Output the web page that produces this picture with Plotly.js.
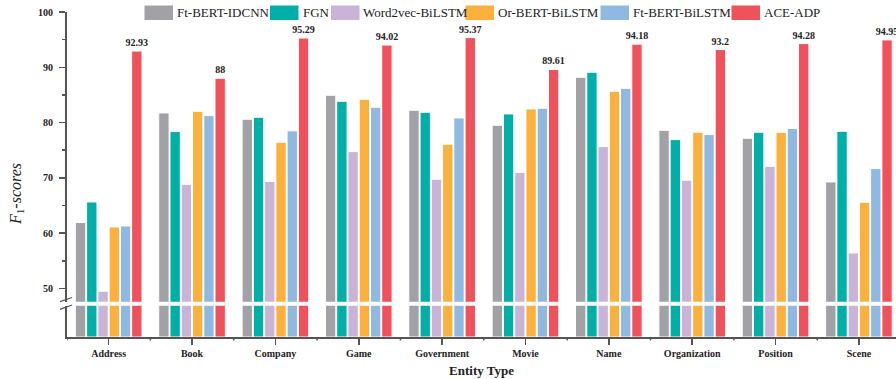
<!DOCTYPE html>
<html>
<head>
<meta charset="utf-8">
<script src="https://cdn.plot.ly/plotly-3.0.1.min.js"></script>
<style>html,body{margin:0;padding:0;background:#fff;overflow:hidden}#chart{width:896px;height:379px}</style>
</head>
<body>
<div id="chart"></div>
<script>
const categories = ['Address','Book','Company','Game','Government','Movie','Name','Organization','Position','Scene'];
const seriesNames = ['Ft-BERT-IDCNN','FGN','Word2vec-BiLSTM','Or-BERT-BiLSTM','Ft-BERT-BiLSTM','ACE-ADP'];
const ftBertIdcnn  = [61.92, 81.74, 80.60, 84.94, 82.22, 79.51, 88.20, 78.60, 77.16, 69.26];
const fgn          = [65.64, 78.37, 80.96, 83.85, 81.86, 81.56, 89.10, 76.92, 78.25, 78.43];
const word2vecBilstm = [49.50, 68.84, 69.33, 74.75, 69.75, 71.00, 75.66, 69.57, 72.10, 56.42];
const orBertBilstm = [61.12, 82.04, 76.44, 84.21, 76.08, 82.46, 85.66, 78.25, 78.25, 65.59];
const ftBertBilstm = [61.30, 81.26, 78.50, 82.77, 80.83, 82.59, 86.20, 77.83, 78.92, 71.68];
const aceAdp       = [92.93, 88, 95.29, 94.02, 95.37, 89.61, 94.18, 93.2, 94.28, 94.95];
const aceAdpLabels = ['92.93','88','95.29','94.02','95.37','89.61','94.18','93.2','94.28','94.95'];

const seriesValues = [ftBertIdcnn, fgn, word2vecBilstm, orBertBilstm, ftBertBilstm, aceAdp];
const colors = ['#A2A2A6', '#00AFA7', '#C9B4D7', '#FBB13C', '#90B9E1', '#F0515A'];

const SERIF = 'Liberation Serif, Times New Roman, serif';
const W = 896, H = 379;
const M = {l: 67, r: 0, t: 12, b: 42};
const PW = W - M.l - M.r, PH = H - M.t - M.b;
const px = x => (x - M.l) / PW;
const py = y => (H - M.b - y) / PH;

const traces = [];
seriesValues.forEach((vals, i) => {
  const isLast = i === seriesValues.length - 1;
  traces.push({
    type: 'bar', x: categories, y: vals, name: seriesNames[i],
    xaxis: 'x', yaxis: 'y', showlegend: false,
    marker: {color: colors[i], line: {color: '#ffffff', width: 1}},
    text: isLast ? aceAdpLabels : undefined,
    textposition: isLast ? 'outside' : 'none',
    constraintext: 'none',
    textfont: {family: SERIF, size: 10, color: '#222', weight: 'bold'},
    cliponaxis: false, hoverinfo: 'none'
  });
});
seriesValues.forEach((vals, i) => {
  traces.push({
    type: 'bar', x: categories, y: vals, name: seriesNames[i],
    xaxis: 'x', yaxis: 'y2', showlegend: false,
    marker: {color: colors[i], line: {color: '#ffffff', width: 1}},
    hoverinfo: 'none'
  });
});

// manual legend
const legSwatchX = [144, 269.5, 330.5, 465, 600, 731];
const legTextX = [175, 301, 361, 496, 631, 762];
const shapes = [];
const annotations = [];
seriesNames.forEach((n, i) => {
  shapes.push({type: 'rect', xref: 'paper', yref: 'paper',
    x0: px(legSwatchX[i]), x1: px(legSwatchX[i] + 29.5), y0: py(20.5), y1: py(5),
    fillcolor: colors[i], line: {color: '#ffffff', width: 1}});
  annotations.push({xref: 'paper', yref: 'paper', x: px(legTextX[i]), y: py(12.8),
    xanchor: 'left', yanchor: 'middle', showarrow: false, text: n,
    font: {family: SERIF, size: 13, color: '#222'}});
});

// category boundary ticks
for (let i = 0; i <= categories.length; i++) {
  shapes.push({type: 'line', xref: 'x', yref: 'paper', x0: i - 0.5, x1: i - 0.5,
    y0: py(337), y1: py(340.5), line: {color: '#555', width: 1.5}});
}
// axis break marks
shapes.push({type: 'line', xref: 'paper', yref: 'paper', x0: px(60), y0: py(301.7), x1: px(72), y1: py(297.5), line: {color: '#555', width: 1.3}});
shapes.push({type: 'line', xref: 'paper', yref: 'paper', x0: px(60), y0: py(309.3), x1: px(72), y1: py(305), line: {color: '#555', width: 1.3}});

// y axis title
annotations.push({xref: 'paper', yref: 'paper', x: px(16), y: py(194), xanchor: 'center', yanchor: 'middle',
  showarrow: false, textangle: -90, text: '<i>F</i><sub>1</sub><i>-scores</i>',
  font: {family: SERIF, size: 16, color: '#222'}});

const layout = {
  width: W, height: H, margin: M,
  paper_bgcolor: '#ffffff', plot_bgcolor: '#ffffff',
  barmode: 'group', bargap: 0.19, bargroupgap: 0.08,
  showlegend: false,
  xaxis: {
    type: 'category', range: [-0.5, -0.5 + PW / 83.36], anchor: 'y2',
    showline: true, linecolor: '#555', linewidth: 2,
    ticks: 'outside', ticklen: 6, tickwidth: 1.5, tickcolor: '#555',
    tickfont: {family: SERIF, size: 10, color: '#222', weight: 'bold'},
    title: {text: 'Entity Type', font: {family: SERIF, size: 13, color: '#222', weight: 'bold'}, standoff: 8},
    showgrid: false, zeroline: false, fixedrange: true
  },
  yaxis: {
    domain: [py(301.7), 1], range: [47.6, 100], tick0: 0, dtick: 10,
    showline: true, linecolor: '#555', linewidth: 2,
    ticks: 'outside', ticklen: 6, tickwidth: 1.5, tickcolor: '#555',
    minor: {ticks: 'outside', dtick: 5, tick0: 0, ticklen: 3, tickwidth: 1.5, tickcolor: '#555', showgrid: false},
    tickfont: {family: SERIF, size: 10, color: '#222', weight: 'bold'},
    ticklabelstandoff: 4,
    showgrid: false, zeroline: false, fixedrange: true
  },
  yaxis2: {
    domain: [0, py(305.7)], range: [0, 10],
    showline: true, linecolor: '#555', linewidth: 2,
    ticks: '', showticklabels: false,
    showgrid: false, zeroline: false, fixedrange: true
  },
  shapes: shapes,
  annotations: annotations
};

Plotly.newPlot('chart', traces, layout, {staticPlot: true, displayModeBar: false});
</script>
</body>
</html>
